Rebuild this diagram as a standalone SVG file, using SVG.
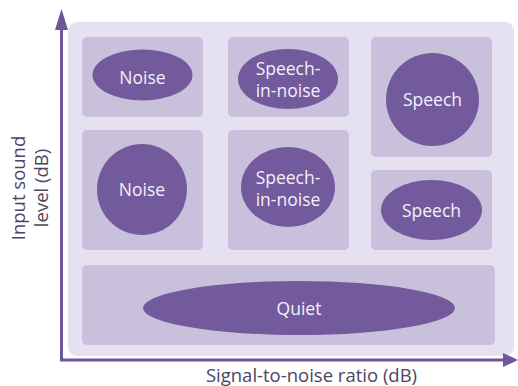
<svg xmlns="http://www.w3.org/2000/svg" width="518" height="386" viewBox="0 0 518 386">
<style>
.panel{fill:#e6e1f0}
.cell{fill:#c9c0dc}
.shape{fill:#725a9d}
.lbl{font-family:"Open Sans","Liberation Sans",sans-serif;font-size:17.5px;fill:#f3f0f8;text-anchor:middle}
.ax{font-family:"Open Sans","Liberation Sans",sans-serif;font-size:18.5px;fill:#4e4560;text-anchor:middle}
.axis{stroke:#6e559c;stroke-width:3;fill:none}
</style>
<rect x="0" y="0" width="518" height="386" fill="#ffffff"/>
<rect class="panel" x="68" y="22" width="446" height="334" rx="9"/>
<g id="noise-high">
<rect class="cell" x="82" y="37" width="121" height="80" rx="5"/>
<ellipse class="shape" cx="142.5" cy="75" rx="50" ry="25.5"/>
<text class="lbl" x="142.5" y="84">Noise</text>
</g>
<g id="sin-high">
<rect class="cell" x="228" y="37" width="121" height="80" rx="5"/>
<ellipse class="shape" cx="288" cy="79" rx="50" ry="30"/>
<text class="lbl" x="288" y="75">Speech-</text>
<text class="lbl" x="288" y="97">in-noise</text>
</g>
<g id="speech-high">
<rect class="cell" x="371" y="37" width="121" height="120" rx="5"/>
<ellipse class="shape" cx="432.5" cy="99.5" rx="46.5" ry="46.5"/>
<text class="lbl" x="432.5" y="106">Speech</text>
</g>
<g id="noise-mid">
<rect class="cell" x="82" y="130" width="121" height="120" rx="5"/>
<ellipse class="shape" cx="142" cy="189.5" rx="45" ry="45.5"/>
<text class="lbl" x="142" y="196">Noise</text>
</g>
<g id="sin-mid">
<rect class="cell" x="228" y="130" width="121" height="120" rx="5"/>
<ellipse class="shape" cx="288" cy="187" rx="47" ry="40"/>
<text class="lbl" x="288" y="184">Speech-</text>
<text class="lbl" x="288" y="206">in-noise</text>
</g>
<g id="speech-mid">
<rect class="cell" x="371" y="170" width="121" height="80" rx="5"/>
<ellipse class="shape" cx="431.5" cy="210" rx="50.5" ry="30"/>
<text class="lbl" x="431.5" y="216.5">Speech</text>
</g>
<g id="quiet">
<rect class="cell" x="82" y="265" width="413" height="80" rx="5"/>
<ellipse class="shape" cx="299" cy="308" rx="156" ry="27"/>
<text class="lbl" x="299" y="314.5">Quiet</text>
</g>
<g id="connectors">
<path class="axis" d="M61.5 28 V360 H505"/>
<polygon points="55,30 61.5,9 68,30" fill="#6e559c"/>
<polygon points="503,353 518,360 503,367" fill="#6e559c"/>
</g>
<text class="ax" transform="translate(25 188) rotate(-90)">Input sound</text>
<text class="ax" transform="translate(48 188) rotate(-90)">level (dB)</text>
<text class="ax" x="311.5" y="382">Signal-to-noise ratio (dB)</text>
</svg>
